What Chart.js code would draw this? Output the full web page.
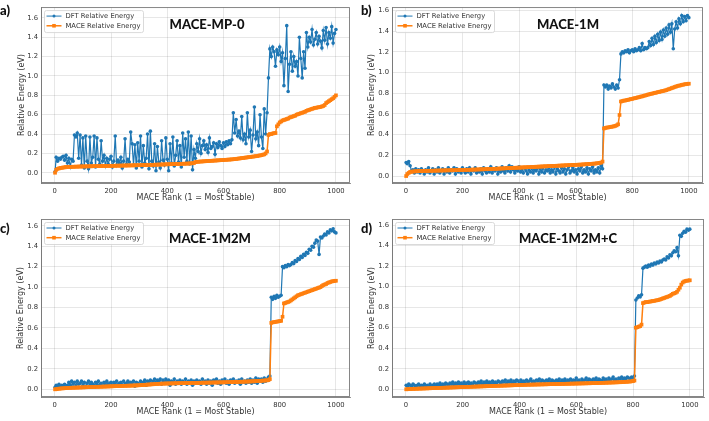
<!DOCTYPE html>
<html><head><meta charset="utf-8">
<script src="https://cdn.jsdelivr.net/npm/chart.js@4.4.1/dist/chart.umd.min.js"></script>
<style>
html,body{margin:0;padding:0;background:#fff;}
#wrap{position:relative;width:709px;height:421px;overflow:hidden;background:#fff;}
canvas{position:absolute;}
.ttl{position:absolute;font-family:Lato,'Open Sans',sans-serif;font-weight:900;color:#111;white-space:nowrap;transform:translate(-50%,-50%);line-height:1;font-size:13px;}
.let{position:absolute;font-family:Lato,'Open Sans',sans-serif;font-weight:900;color:#111;white-space:nowrap;transform:translateY(-50%);line-height:1;font-size:13px;}
</style></head><body>
<div id="wrap"></div>
<script>
// sampled MACE ranks (x values)
const ranks = [1,
5,10,15,20,25,30,35,40,45,50,
55,60,65,70,75,80,85,90,95,100,
105,110,115,120,125,130,135,140,145,150,
155,160,165,170,175,180,185,190,195,200,
205,210,215,220,225,230,235,240,245,250,
255,260,265,270,275,280,285,290,295,300,
305,310,315,320,325,330,335,340,345,350,
355,360,365,370,375,380,385,390,395,400,
405,410,415,420,425,430,435,440,445,450,
455,460,465,470,475,480,485,490,495,500,
505,510,515,520,525,530,535,540,545,550,
555,560,565,570,575,580,585,590,595,600,
605,610,615,620,625,630,635,640,645,650,
655,660,665,670,675,680,685,690,695,700,
705,710,715,720,725,730,735,740,745,750,
755,760,765,770,775,780,785,790,795,800,
805,810,815,820,825,830,835,840,845,850,
855,860,865,870,875,880,885,890,895,900,
905,910,915,920,925,930,935,940,945,950,
955,960,965,970,975,980,985,990,995,1000];

// a) MACE-MP-0
const mp0Dft = [0.01,
0.16,0.12,0.15,0.14,0.16,0.17,0.13,0.18,0.10,0.15,
0.06,0.14,0.12,0.39,0.37,0.41,0.15,0.39,0.08,0.36,
0.05,0.38,0.12,0.04,0.37,0.10,0.16,0.38,0.06,0.36,
0.14,0.09,0.33,0.12,0.18,0.07,0.15,0.09,0.14,0.17,
0.06,0.12,0.38,0.08,0.13,0.10,0.16,0.05,0.12,0.35,
0.09,0.14,0.11,0.42,0.30,0.08,0.29,0.05,0.31,0.12,
0.38,0.06,0.28,0.10,0.15,0.40,0.04,0.43,0.12,0.07,
0.30,0.02,0.27,0.11,0.05,0.33,0.13,0.08,0.36,0.14,
0.02,0.30,0.10,0.37,0.07,0.18,0.33,0.11,0.28,0.06,
0.41,0.16,0.35,0.12,0.42,0.09,0.38,0.03,0.24,0.15,
0.30,0.22,0.35,0.20,0.28,0.33,0.24,0.29,0.21,0.36,
0.25,0.27,0.31,0.19,0.30,0.26,0.32,0.28,0.25,0.31,
0.27,0.32,0.29,0.33,0.30,0.34,0.62,0.41,0.55,0.38,
0.43,0.36,0.58,0.34,0.40,0.30,0.62,0.37,0.44,0.22,
0.39,0.68,0.35,0.42,0.28,0.60,0.37,0.25,0.66,0.40,
0.62,0.98,1.28,1.20,1.30,1.25,1.10,1.27,1.22,1.30,
1.15,1.24,0.90,1.18,1.52,0.84,1.12,1.25,1.05,1.20,
1.10,1.15,1.00,1.40,1.18,0.98,1.25,1.08,1.45,1.30,
1.40,1.35,1.48,1.32,1.38,1.45,1.33,1.41,1.36,1.29,
1.47,1.37,1.50,1.33,1.45,1.39,1.51,1.34,1.44,1.48];
const mp0Mace = [0.00,
0.03,0.04,0.045,0.05,0.05,0.055,0.055,0.06,0.06,0.06,
0.06,0.06,0.062,0.062,0.063,0.063,0.064,0.064,0.065,0.065,
0.065,0.066,0.066,0.066,0.067,0.067,0.067,0.068,0.068,0.068,
0.069,0.069,0.069,0.07,0.07,0.07,0.07,0.071,0.071,0.071,
0.072,0.072,0.072,0.073,0.073,0.073,0.074,0.074,0.074,0.075,
0.075,0.075,0.076,0.076,0.076,0.077,0.077,0.077,0.078,0.078,
0.078,0.079,0.079,0.08,0.08,0.08,0.081,0.081,0.082,0.082,
0.083,0.083,0.084,0.084,0.085,0.085,0.086,0.086,0.087,0.087,
0.088,0.088,0.089,0.089,0.09,0.09,0.091,0.091,0.092,0.092,
0.093,0.093,0.094,0.094,0.095,0.096,0.097,0.098,0.10,0.11,
0.112,0.114,0.115,0.116,0.117,0.118,0.119,0.12,0.121,0.122,
0.123,0.124,0.125,0.126,0.127,0.128,0.129,0.13,0.131,0.132,
0.133,0.134,0.135,0.136,0.137,0.138,0.14,0.141,0.143,0.145,
0.147,0.149,0.151,0.153,0.155,0.157,0.159,0.161,0.163,0.165,
0.167,0.169,0.171,0.173,0.176,0.179,0.182,0.186,0.19,0.20,
0.22,0.39,0.40,0.40,0.405,0.41,0.41,0.48,0.50,0.52,
0.53,0.54,0.545,0.55,0.555,0.56,0.57,0.575,0.58,0.585,
0.59,0.60,0.605,0.61,0.615,0.62,0.625,0.63,0.64,0.645,
0.65,0.655,0.66,0.665,0.67,0.672,0.675,0.678,0.68,0.685,
0.69,0.70,0.72,0.73,0.74,0.75,0.76,0.77,0.785,0.80];

// b) MACE-1M
const m1Dft = [0.13,
0.12,0.14,0.10,0.05,0.06,0.03,0.07,0.04,0.06,0.03,
0.07,0.05,0.02,0.06,0.04,0.08,0.03,0.05,0.07,0.02,
0.06,0.04,0.08,0.03,0.05,0.07,0.02,0.06,0.04,0.08,
0.03,0.06,0.05,0.08,0.02,0.07,0.04,0.06,0.03,0.08,
0.05,0.03,0.07,0.04,0.08,0.02,0.06,0.05,0.08,0.03,
0.06,0.04,0.07,0.02,0.08,0.05,0.03,0.07,0.04,0.09,
0.03,0.06,0.05,0.08,0.02,0.07,0.04,0.09,0.05,0.03,
0.08,0.05,0.10,0.04,0.09,0.06,0.03,0.08,0.05,0.09,
0.04,0.07,0.03,0.08,0.05,0.02,0.07,0.04,0.08,0.03,
0.06,0.05,0.08,0.02,0.07,0.04,0.09,0.03,0.06,0.05,
0.08,0.03,0.06,0.04,0.09,0.02,0.07,0.05,0.03,0.08,
0.04,0.07,0.02,0.06,0.09,0.03,0.05,0.08,0.04,0.06,
0.02,0.07,0.05,0.09,0.03,0.06,0.04,0.08,0.02,0.07,
0.05,0.09,0.03,0.06,0.04,0.08,0.03,0.10,0.07,0.88,
0.86,0.88,0.84,0.87,0.85,0.89,0.86,0.84,0.88,0.85,
0.93,1.18,1.20,1.19,1.21,1.20,1.22,1.19,1.21,1.22,
1.20,1.23,1.21,1.22,1.24,1.21,1.28,1.22,1.24,1.23,
1.24,1.30,1.26,1.33,1.27,1.35,1.29,1.37,1.31,1.39,
1.32,1.41,1.35,1.43,1.37,1.46,1.39,1.47,1.23,1.42,
1.49,1.43,1.52,1.47,1.55,1.49,1.54,1.50,1.55,1.53];
const m1Mace = [0.00,
0.02,0.03,0.04,0.042,0.044,0.045,0.046,0.047,0.048,0.048,
0.049,0.049,0.05,0.05,0.05,0.051,0.051,0.051,0.052,0.052,
0.052,0.053,0.053,0.053,0.054,0.054,0.054,0.055,0.055,0.055,
0.056,0.056,0.056,0.057,0.057,0.057,0.058,0.058,0.058,0.059,
0.059,0.06,0.06,0.06,0.061,0.061,0.062,0.062,0.063,0.063,
0.064,0.064,0.065,0.065,0.066,0.066,0.067,0.067,0.068,0.068,
0.069,0.07,0.07,0.071,0.072,0.072,0.073,0.074,0.074,0.075,
0.076,0.076,0.077,0.078,0.078,0.079,0.08,0.08,0.081,0.082,
0.082,0.083,0.084,0.084,0.085,0.086,0.086,0.087,0.088,0.088,
0.089,0.09,0.09,0.091,0.092,0.092,0.093,0.094,0.094,0.095,
0.096,0.096,0.097,0.098,0.098,0.099,0.10,0.10,0.101,0.102,
0.102,0.103,0.104,0.104,0.105,0.106,0.106,0.107,0.108,0.108,
0.109,0.11,0.11,0.111,0.112,0.113,0.114,0.115,0.116,0.117,
0.118,0.119,0.12,0.121,0.123,0.125,0.127,0.13,0.14,0.46,
0.465,0.468,0.47,0.472,0.475,0.478,0.48,0.485,0.49,0.50,
0.59,0.72,0.725,0.728,0.73,0.733,0.736,0.74,0.743,0.746,
0.75,0.753,0.756,0.76,0.763,0.767,0.77,0.774,0.778,0.782,
0.786,0.79,0.793,0.796,0.80,0.803,0.806,0.81,0.813,0.816,
0.82,0.823,0.826,0.83,0.835,0.84,0.845,0.85,0.855,0.86,
0.865,0.87,0.873,0.876,0.88,0.883,0.886,0.888,0.89,0.892];

// c) MACE-1M2M
const m1m2Dft = [0.02,
0.04,0.03,0.05,0.02,0.04,0.03,0.05,0.02,0.04,0.07,
0.04,0.08,0.05,0.07,0.03,0.08,0.05,0.06,0.08,0.04,
0.07,0.02,0.06,0.08,0.04,0.07,0.05,0.03,0.07,0.05,
0.08,0.04,0.06,0.03,0.07,0.05,0.08,0.04,0.06,0.07,
0.04,0.07,0.05,0.08,0.03,0.06,0.07,0.04,0.08,0.05,
0.06,0.08,0.04,0.07,0.05,0.08,0.03,0.07,0.06,0.04,
0.08,0.05,0.07,0.09,0.04,0.08,0.06,0.09,0.05,0.08,
0.10,0.06,0.09,0.07,0.10,0.05,0.09,0.07,0.10,0.06,
0.09,0.04,0.08,0.06,0.10,0.05,0.08,0.07,0.09,0.05,
0.08,0.06,0.10,0.05,0.08,0.07,0.09,0.04,0.08,0.06,
0.09,0.06,0.08,0.05,0.10,0.07,0.08,0.05,0.09,0.06,
0.08,0.04,0.09,0.07,0.10,0.06,0.08,0.05,0.09,0.07,
0.10,0.06,0.08,0.05,0.09,0.07,0.10,0.06,0.08,0.07,
0.09,0.05,0.10,0.07,0.08,0.06,0.09,0.07,0.10,0.06,
0.09,0.07,0.11,0.06,0.10,0.08,0.10,0.07,0.11,0.08,
0.10,0.12,0.13,0.90,0.88,0.91,0.89,0.92,0.90,0.91,
0.92,1.20,1.19,1.21,1.20,1.22,1.21,1.22,1.24,1.23,
1.26,1.25,1.28,1.27,1.30,1.29,1.32,1.31,1.34,1.33,
1.37,1.36,1.40,1.39,1.43,1.46,1.45,1.32,1.49,1.48,
1.50,1.52,1.51,1.54,1.53,1.56,1.55,1.57,1.54,1.53];
const m1m2Mace = [0.00,
0.002,0.004,0.006,0.008,0.009,0.01,0.011,0.012,0.013,0.014,
0.015,0.015,0.016,0.016,0.017,0.017,0.018,0.018,0.019,0.019,
0.02,0.02,0.021,0.021,0.022,0.022,0.023,0.023,0.024,0.024,
0.025,0.025,0.026,0.026,0.027,0.027,0.028,0.028,0.029,0.029,
0.03,0.03,0.031,0.031,0.032,0.032,0.033,0.033,0.034,0.034,
0.035,0.035,0.036,0.036,0.037,0.037,0.038,0.038,0.039,0.04,
0.041,0.042,0.043,0.044,0.045,0.046,0.047,0.048,0.049,0.05,
0.051,0.052,0.053,0.054,0.055,0.055,0.056,0.056,0.057,0.057,
0.057,0.058,0.058,0.058,0.059,0.059,0.059,0.06,0.06,0.06,
0.06,0.061,0.061,0.061,0.062,0.062,0.062,0.063,0.063,0.063,
0.063,0.064,0.064,0.064,0.065,0.065,0.065,0.065,0.066,0.066,
0.066,0.066,0.067,0.067,0.067,0.067,0.068,0.068,0.068,0.069,
0.069,0.069,0.07,0.07,0.07,0.071,0.071,0.072,0.072,0.073,
0.073,0.074,0.074,0.075,0.075,0.076,0.076,0.077,0.077,0.078,
0.078,0.079,0.08,0.081,0.082,0.083,0.084,0.085,0.086,0.087,
0.088,0.09,0.10,0.65,0.655,0.658,0.66,0.662,0.665,0.667,
0.67,0.71,0.84,0.845,0.85,0.855,0.86,0.87,0.88,0.89,
0.90,0.91,0.92,0.925,0.93,0.935,0.94,0.945,0.95,0.955,
0.96,0.965,0.97,0.975,0.98,0.985,0.99,0.995,1.00,1.01,
1.02,1.025,1.03,1.04,1.045,1.05,1.055,1.058,1.06,1.062];

// d) MACE-1M2M+C
const m1m2cDft = [0.04,
0.03,0.05,0.04,0.03,0.05,0.04,0.03,0.04,0.05,0.03,
0.04,0.03,0.05,0.03,0.04,0.02,0.05,0.03,0.04,0.05,
0.03,0.05,0.04,0.06,0.03,0.05,0.04,0.06,0.05,0.04,
0.06,0.05,0.07,0.04,0.06,0.05,0.07,0.05,0.06,0.04,
0.07,0.05,0.06,0.07,0.05,0.06,0.04,0.07,0.06,0.05,
0.07,0.06,0.08,0.05,0.07,0.06,0.08,0.06,0.07,0.05,
0.08,0.06,0.07,0.05,0.08,0.07,0.06,0.08,0.07,0.09,
0.06,0.08,0.07,0.09,0.06,0.08,0.07,0.09,0.08,0.06,
0.09,0.07,0.08,0.06,0.09,0.07,0.08,0.10,0.07,0.08,
0.06,0.09,0.08,0.10,0.07,0.09,0.08,0.06,0.09,0.08,
0.10,0.07,0.09,0.08,0.06,0.09,0.08,0.10,0.07,0.09,
0.08,0.10,0.07,0.09,0.08,0.10,0.07,0.09,0.08,0.11,
0.08,0.09,0.07,0.10,0.08,0.09,0.11,0.08,0.10,0.09,
0.07,0.10,0.09,0.11,0.08,0.10,0.09,0.08,0.11,0.09,
0.10,0.08,0.11,0.09,0.10,0.12,0.09,0.10,0.08,0.11,
0.10,0.12,0.09,0.11,0.10,0.12,0.11,0.10,0.12,0.11,
0.13,0.87,0.89,0.91,0.90,0.92,1.18,1.19,1.20,1.19,
1.21,1.20,1.22,1.21,1.23,1.22,1.24,1.23,1.25,1.24,
1.26,1.27,1.26,1.29,1.28,1.31,1.30,1.33,1.35,1.34,
1.38,1.30,1.50,1.49,1.52,1.54,1.53,1.56,1.55,1.56];
const m1m2cMace = [0.00,
0.001,0.002,0.003,0.004,0.004,0.005,0.005,0.006,0.006,0.007,
0.007,0.008,0.008,0.009,0.009,0.01,0.01,0.011,0.011,0.012,
0.012,0.013,0.013,0.014,0.014,0.015,0.015,0.016,0.016,0.017,
0.017,0.018,0.018,0.019,0.019,0.02,0.02,0.021,0.021,0.022,
0.022,0.023,0.023,0.024,0.024,0.025,0.025,0.026,0.026,0.027,
0.027,0.028,0.028,0.029,0.029,0.03,0.03,0.031,0.031,0.032,
0.032,0.033,0.033,0.034,0.034,0.035,0.035,0.036,0.036,0.037,
0.037,0.038,0.038,0.039,0.039,0.04,0.04,0.041,0.041,0.042,
0.042,0.043,0.043,0.044,0.044,0.045,0.045,0.045,0.046,0.046,
0.046,0.047,0.047,0.047,0.048,0.048,0.048,0.049,0.049,0.049,
0.05,0.05,0.05,0.051,0.051,0.051,0.052,0.052,0.052,0.053,
0.053,0.053,0.054,0.054,0.054,0.055,0.055,0.055,0.056,0.056,
0.056,0.057,0.057,0.057,0.058,0.058,0.058,0.059,0.059,0.059,
0.06,0.06,0.06,0.061,0.061,0.062,0.062,0.063,0.063,0.064,
0.064,0.065,0.065,0.066,0.066,0.067,0.067,0.068,0.068,0.069,
0.069,0.07,0.071,0.072,0.073,0.074,0.075,0.076,0.078,0.08,
0.085,0.60,0.605,0.61,0.615,0.63,0.84,0.845,0.85,0.85,
0.852,0.855,0.857,0.86,0.862,0.865,0.868,0.87,0.875,0.88,
0.885,0.89,0.895,0.90,0.905,0.91,0.92,0.93,0.935,0.94,
0.95,0.97,0.99,1.02,1.04,1.05,1.055,1.058,1.06,1.062];

const panelTitles = ['MACE-MP-0', 'MACE-1M', 'MACE-1M2M', 'MACE-1M2M+C'];
const panelLetters = ['a)', 'b)', 'c)', 'd)'];
const seriesNames = ['DFT Relative Energy', 'MACE Relative Energy'];
const xTickValues = [0, 200, 400, 600, 800, 1000];
const yTickValues = [0.0, 0.2, 0.4, 0.6, 0.8, 1.0, 1.2, 1.4, 1.6];
const xLabel = 'MACE Rank (1 = Most Stable)';
const yLabel = 'Relative Energy (eV)';

const dftSeries = [mp0Dft, m1Dft, m1m2Dft, m1m2cDft];
const maceSeries = [mp0Mace, m1Mace, m1m2Mace, m1m2cMace];

// layout of each panel (pixels)
const panels = [
  {left:0,   top:0,   w:354, h:205, aL:41, aR:352, aT:5,  aB:183, yT:17, xB:2, ymin:-0.106, ymax:1.712, tx:207, ty:24, lx:0,   ly:10},
  {left:354, top:0,   w:355, h:205, aL:38, aR:349, aT:5,  aB:183, yT:13, xB:2, ymin:-0.067, ymax:1.632, tx:568, ty:24, lx:361, ly:10},
  {left:0,   top:205, w:354, h:216, aL:41, aR:352, aT:14, aB:192, yT:16, xB:4, ymin:-0.075, ymax:1.666, tx:210, ty:238, lx:0,  ly:228},
  {left:354, top:205, w:355, h:216, aL:38, aR:350, aT:14, aB:192, yT:13, xB:4, ymin:-0.075, ymax:1.659, tx:568, ty:238, lx:361, ly:228}
];

const BLUE = '#1f77b4', ORANGE = '#ff7f0e';
const FONT = "'DejaVu Sans', sans-serif";

const framePlugin = {
  id: 'frame',
  afterDraw(chart) {
    const {ctx, chartArea: a} = chart;
    ctx.save();
    ctx.strokeStyle = '#7a7a7a';
    ctx.lineWidth = 0.9;
    ctx.strokeRect(a.left + 0.5, a.top + 0.5, a.right - a.left - 1, a.bottom - a.top - 1);
    // legend
    const bx = a.left + 3, by = a.top + 3, bw = 99, bh = 22;
    ctx.fillStyle = 'rgba(255,255,255,0.85)';
    ctx.strokeStyle = '#d0d0d0';
    ctx.lineWidth = 0.8;
    ctx.beginPath();
    if (ctx.roundRect) ctx.roundRect(bx + 0.5, by + 0.5, bw, bh, 2); else ctx.rect(bx + 0.5, by + 0.5, bw, bh);
    ctx.fill(); ctx.stroke();
    const cols = [BLUE, ORANGE];
    const rows = [by + 6, by + 15.7];
    ctx.font = '6.8px ' + FONT;
    ctx.textBaseline = 'middle';
    ctx.textAlign = 'left';
    for (let i = 0; i < 2; i++) {
      const y = rows[i];
      ctx.strokeStyle = cols[i];
      ctx.lineWidth = i === 0 ? 1 : 1.5;
      ctx.beginPath(); ctx.moveTo(bx + 2.5, y); ctx.lineTo(bx + 17.5, y); ctx.stroke();
      ctx.fillStyle = cols[i];
      if (i === 0) { ctx.beginPath(); ctx.arc(bx + 10, y, 1.5, 0, Math.PI * 2); ctx.fill(); }
      else { ctx.fillRect(bx + 8.2, y - 1.8, 3.6, 3.6); }
      ctx.fillStyle = '#333';
      ctx.fillText(seriesNames[i], bx + 21.5, y + 0.3);
    }
    ctx.restore();
  }
};

const wrap = document.getElementById('wrap');
panels.forEach((p, k) => {
  const c = document.createElement('canvas');
  c.width = p.w; c.height = p.h;
  c.style.left = p.left + 'px'; c.style.top = p.top + 'px';
  c.style.width = p.w + 'px'; c.style.height = p.h + 'px';
  wrap.appendChild(c);

  const t = document.createElement('div');
  t.className = 'ttl'; t.textContent = panelTitles[k];
  t.style.left = p.tx + 'px'; t.style.top = p.ty + 'px';
  wrap.appendChild(t);
  const l = document.createElement('div');
  l.className = 'let'; l.textContent = panelLetters[k];
  l.style.left = p.lx + 'px'; l.style.top = p.ly + 'px';
  wrap.appendChild(l);

  const dft = ranks.map((r, i) => ({x: r, y: dftSeries[k][i]}));
  const mace = ranks.map((r, i) => ({x: r, y: maceSeries[k][i]}));

  new Chart(c, {
    type: 'line',
    data: {
      datasets: [
        {label: seriesNames[0], data: dft, borderColor: BLUE, backgroundColor: BLUE, borderWidth: 1.2,
         pointRadius: 1.8, pointBorderWidth: 0, pointBackgroundColor: BLUE, pointStyle: 'circle', tension: 0, order: 2},
        {label: seriesNames[1], data: mace, borderColor: ORANGE, backgroundColor: ORANGE, borderWidth: 1.5,
         pointRadius: 2.6, pointBorderWidth: 0, pointBackgroundColor: ORANGE, pointStyle: 'rect', tension: 0, order: 1}
      ]
    },
    options: {
      responsive: false, animation: false, events: [], devicePixelRatio: 1,
      layout: {padding: {left: 0, right: p.w - p.aR, top: p.aT, bottom: 0}},
      plugins: {legend: {display: false}, tooltip: {enabled: false}},
      scales: {
        x: {
          type: 'linear', min: -49, max: 1050,
          afterFit: s => { s.height = p.h - p.aB; },
          afterBuildTicks: s => { s.ticks = xTickValues.map(v => ({value: v})); },
          ticks: {font: {family: FONT, size: 6.8}, color: '#333', padding: 4, maxRotation: 0, includeBounds: false,
                  callback: v => String(v)},
          grid: {color: 'rgba(0,0,0,0.12)', lineWidth: 0.8, drawTicks: false},
          border: {display: true, color: '#7a7a7a', width: 0.9},
          title: {display: true, text: xLabel, font: {family: FONT, size: 8}, color: '#333', padding: {top: 0, bottom: p.xB}}
        },
        y: {
          type: 'linear', min: p.ymin, max: p.ymax,
          afterFit: s => { s.width = p.aL; },
          afterBuildTicks: s => { s.ticks = yTickValues.map(v => ({value: v})); },
          ticks: {font: {family: FONT, size: 6.8}, color: '#333', padding: 3, includeBounds: false,
                  callback: v => Number(v).toFixed(1)},
          grid: {color: 'rgba(0,0,0,0.12)', lineWidth: 0.8, drawTicks: false},
          border: {display: true, color: '#7a7a7a', width: 0.9},
          title: {display: true, text: yLabel, font: {family: FONT, size: 8}, color: '#333', padding: {top: p.yT, bottom: 0}}
        }
      }
    },
    plugins: [framePlugin]
  });
});
</script>
</body></html>
